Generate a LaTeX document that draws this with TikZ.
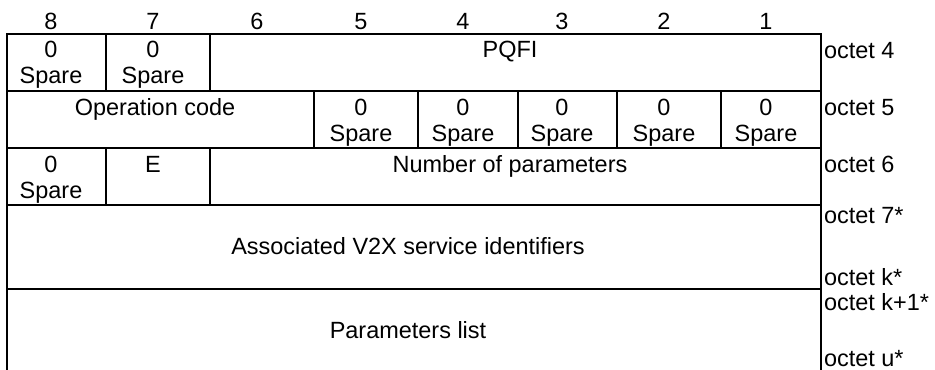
\documentclass[tikz,border=0pt]{standalone}
\usepackage{fontspec}
\setmainfont{Liberation Sans}
\begin{document}
\begin{tikzpicture}[x=0.75pt,y=-0.75pt,line width=1.5pt,line cap=rect,
  lbl/.style={font=\fontsize{17.6}{21}\selectfont,anchor=base,inner sep=0pt},
  oct/.style={lbl,anchor=base west}]
  \useasboundingbox (0,0) rectangle (935,369);
  % bit numbers
  \foreach \n/\x in {8/51,7/153,6/257,5/361,4/463,3/562,2/664,1/766}
    \node[lbl] (bit\n) at (\x,29) {\n};
  % frame
  \draw (7,369) -- (7,34) -- (821,34) -- (821,369);
  \draw (7,91) -- (821,91);
  \draw (7,148) -- (821,148);
  \draw (7,205) -- (821,205);
  \draw (7,289) -- (821,289);
  \draw (106,34) -- (106,91);
  \draw (210,34) -- (210,91);
  \foreach \x in {314,418,518,617,721}
    \draw (\x,91) -- (\x,148);
  \draw (106,148) -- (106,205);
  \draw (210,148) -- (210,205);
  % octet 4
  \node[lbl] (zeroA) at (51,57) {0};
  \node[lbl] (spareA) at (51,83) {Spare};
  \node[lbl] (zeroB) at (153,57) {0};
  \node[lbl] (spareB) at (153,83) {Spare};
  \node[lbl] (pqfi) at (510,57) {PQFI};
  % octet 5
  \node[lbl] (opcode) at (155,115) {Operation code};
  \foreach \x [count=\i] in {361,463,562,664,766} {
    \node[lbl] (zero\i) at (\x,115) {0};
    \node[lbl] (spare\i) at (\x,141) {Spare};
  }
  % octet 6
  \node[lbl] (zeroC) at (51,172) {0};
  \node[lbl] (spareC) at (51,198) {Spare};
  \node[lbl] (ebit) at (153,172) {E};
  \node[lbl] (numpar) at (510,172) {Number of parameters};
  % octets 7 to u
  \node[lbl] (v2xids) at (408,254) {Associated V2X service identifiers};
  \node[lbl] (parlist) at (408,338) {Parameters list};
  % octet labels
  \node[oct] (oct4) at (823,58) {octet 4};
  \node[oct] (oct5) at (823,115) {octet 5};
  \node[oct] (oct6) at (823,172) {octet 6};
  \node[oct] (oct7) at (823,223) {octet 7*};
  \node[oct] (octk) at (823,285) {octet k*};
  \node[oct] (octk1) at (823,310) {octet k+1*};
  \node[oct] (octu) at (823,366) {octet u*};
\end{tikzpicture}
\end{document}
